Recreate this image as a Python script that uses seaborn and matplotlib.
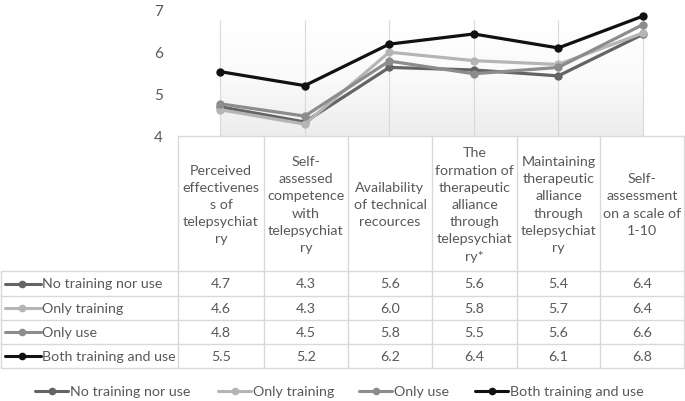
import numpy as np
import pandas as pd
import seaborn as sns
import matplotlib.pyplot as plt
from matplotlib.lines import Line2D
from matplotlib.colors import LinearSegmentedColormap

categories = [
    "Perceived\neffectivenes\ns of\ntelepsychiat\nry",
    "Self-\nassessed\ncompetence\nwith\ntelepsychiat\nry",
    "Availability\nof technical\nrecources",
    "The\nformation of\ntherapeutic\nalliance\nthrough\ntelepsychiat\nry*",
    "Maintaining\ntherapeutic\nalliance\nthrough\ntelepsychiat\nry",
    "Self-\nassessment\non a scale of\n1-10",
]
groups = ["No training nor use", "Only training", "Only use", "Both training and use"]
no_training_nor_use = [4.69, 4.33, 5.62, 5.56, 5.42, 6.40]
only_training = [4.62, 4.28, 5.98, 5.78, 5.69, 6.43]
only_use = [4.76, 4.47, 5.77, 5.47, 5.62, 6.63]
both_training_and_use = [5.52, 5.19, 6.17, 6.41, 6.08, 6.83]
colors = ["#646464", "#b5b5b5", "#8c8c8c", "#111111"]

series = [no_training_nor_use, only_training, only_use, both_training_and_use]
df = pd.DataFrame({
    "x": np.tile(np.arange(len(categories)), len(groups)),
    "group": np.repeat(groups, len(categories)),
    "value": np.concatenate(series),
})

sns.set_theme(style="white")
plt.rcParams["font.family"] = ["Lato", "DejaVu Sans"]
txt = "#595959"
grid = "#d9d9d9"
fs = 10.3
W, H = 685, 402

fig = plt.figure(figsize=(W / 100, H / 100), dpi=100)
ax = fig.add_axes([178 / W, 1 - 137 / H, 507 / W, 127 / H])

# background gradient like the excel plot wall
cmap = LinearSegmentedColormap.from_list("wall", ["#ffffff", "#fafafa", "#ededed"])
ax.imshow(np.linspace(0, 1, 100).reshape(-1, 1), extent=[0, 5, 4, 6.75],
          aspect="auto", cmap=cmap, origin="upper", zorder=0)
ax.vlines(range(len(categories)), 4, 6.75, color=grid, lw=0.8, zorder=1)

sns.lineplot(data=df, x="x", y="value", hue="group", palette=colors,
             marker="o", markersize=6, markeredgewidth=0, linewidth=2.3,
             legend=False, ax=ax, zorder=3)

ax.set_xlim(-0.5, len(categories) - 0.5)
ax.set_ylim(4, 7)
ax.set_yticks([4, 5, 6, 7])
ax.set_xticks([])
ax.set_xlabel("")
ax.set_ylabel("")
ax.tick_params(axis="y", length=0, pad=11, labelsize=11, labelcolor=txt)
for s in ax.spines.values():
    s.set_visible(False)


def fx(px):
    return px / W


def fy(py):
    return 1 - py / H


def hline(y, x0, x1):
    fig.add_artist(Line2D([fx(x0), fx(x1)], [fy(y), fy(y)], color=grid, lw=1))


def vline(x, y0, y1):
    fig.add_artist(Line2D([fx(x), fx(x)], [fy(y0), fy(y1)], color=grid, lw=1))


col_edges = [178, 264, 348, 432, 517, 600, 684]
row_edges = [272, 297, 321, 345, 369]

hline(137, 178, 685)
for y in row_edges:
    hline(y, 1, 685)
for x in col_edges:
    vline(x, 137, 369)
vline(1, 272, 369)

# header cells
for i, cat in enumerate(categories):
    cx = (col_edges[i] + col_edges[i + 1]) / 2
    fig.text(fx(cx), fy(205), cat, ha="center", va="center", fontsize=fs,
             color=txt, linespacing=1.52)

# data rows
for r, (g, vals, c) in enumerate(zip(groups, series, colors)):
    cy = (row_edges[r] + row_edges[r + 1]) / 2
    fig.add_artist(Line2D([fx(5), fx(41)], [fy(cy), fy(cy)], color=c, lw=2.2))
    fig.add_artist(Line2D([fx(22)], [fy(cy)], color=c, marker="o", ms=5.5,
                          mew=0, ls="none"))
    fig.text(fx(42), fy(cy), g, ha="left", va="center", fontsize=fs, color=txt)
    for i, v in enumerate(vals):
        cx = (col_edges[i] + col_edges[i + 1]) / 2
        fig.text(fx(cx), fy(cy), f"{v:.1f}", ha="center", va="center",
                 fontsize=fs, color=txt)

# bottom legend
leg_x = [35, 218, 359, 475]
for g, c, lx in zip(groups, colors, leg_x):
    fig.add_artist(Line2D([fx(lx), fx(lx + 33)], [fy(392), fy(392)], color=c, lw=2.2))
    fig.add_artist(Line2D([fx(lx + 17)], [fy(392)], color=c, marker="o", ms=5.5,
                          mew=0, ls="none"))
    fig.text(fx(lx + 35), fy(392), g, ha="left", va="center", fontsize=fs, color=txt)

fig.savefig("out.png", dpi=100)
plt.close(fig)
